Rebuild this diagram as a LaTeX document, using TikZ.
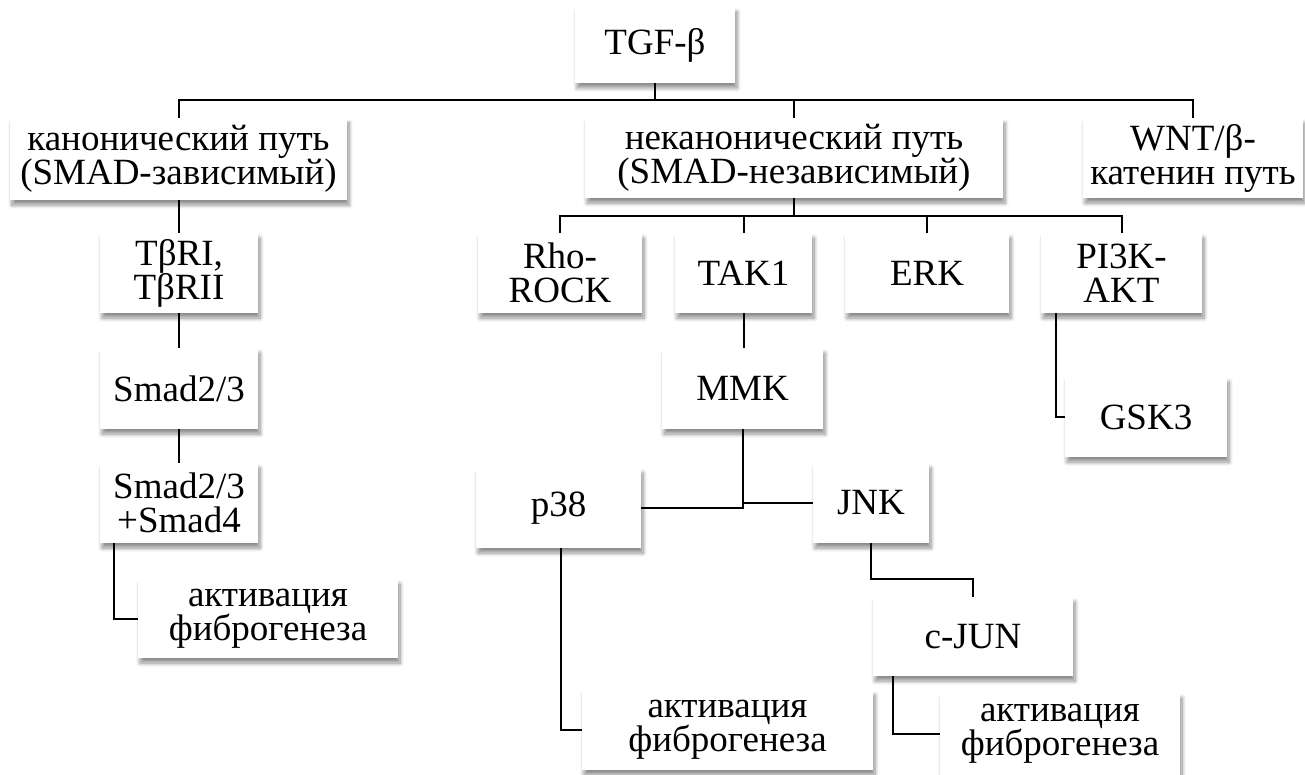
\documentclass[tikz,border=0pt]{standalone}
\usepackage{fontspec}
\setmainfont{Liberation Serif}
\usetikzlibrary{shadows.blur}
\tikzset{
  box/.style={rectangle, fill=white, inner sep=0pt, align=center,
    font=\fontsize{37}{34}\selectfont,
    blur shadow={shadow xshift=2pt, shadow yshift=-5pt, shadow blur steps=8, shadow blur radius=4pt, shadow opacity=45}},
  link/.style={line width=2pt, black}
}
\begin{document}
\begin{tikzpicture}[x=1pt,y=-1pt]
\useasboundingbox (0,0) rectangle (1305,775);
% boxes
\node[box, minimum width=160, minimum height=76] (tgf) at (655,45) {TGF-β};
\node[box, minimum width=337, minimum height=82] (can) at (178.5,159) {канонический путь\\(SMAD-зависимый)};
\node[box, minimum width=418, minimum height=80] (non) at (794,158) {неканонический путь\\(SMAD-независимый)};
\node[box, minimum width=220, minimum height=80] (wnt) at (1193,158) {WNT/β-\\катенин путь};
\node[box, minimum width=158, minimum height=80] (tbr) at (179,273) {TβRI,\\TβRII};
\node[box, minimum width=158, minimum height=81] (smad) at (179,388.5) {Smad2/3};
\node[box, minimum width=158, minimum height=80] (smadf) at (179,503) {Smad2/3\\+Smad4};
\node[box, minimum width=260, minimum height=79] (actL) at (268,618.5) {активация\\фиброгенеза};
\node[box, minimum width=164, minimum height=80] (rho) at (560,273) {Rho-\\ROCK};
\node[box, minimum width=137, minimum height=80] (tak) at (743.5,273) {TAK1};
\node[box, minimum width=164, minimum height=80] (erk) at (927,273) {ERK};
\node[box, minimum width=161, minimum height=80] (pik) at (1121.5,273) {PI3K-\\AKT};
\node[box, minimum width=161, minimum height=81] (mmk) at (742.5,388.5) {MMK};
\node[box, minimum width=162, minimum height=80] (gsk) at (1146,417) {GSK3};
\node[box, minimum width=165, minimum height=80] (p38) at (558.5,508) {p38};
\node[box, minimum width=116, minimum height=80] (jnk) at (871,503) {JNK};
\node[box, minimum width=200, minimum height=79] (cjun) at (973,636.5) {c-JUN};
\node[box, minimum width=291, minimum height=80] (actM) at (727.5,730) {активация\\фиброгенеза};
\node[box, minimum width=240, minimum height=82] (actR) at (1060,734) {активация\\фиброгенеза};
% buses
\coordinate (b1) at (655,100);
\coordinate (b2) at (794,216);
% connectors
\draw[link] (tgf.south) -- (tgf.south |- b1);
\draw[link] (can.north) -- (can.north |- b1) -- (wnt.north |- b1) -- (wnt.north);
\draw[link] (non.north) -- (non.north |- b1);
\draw[link] (can.south) -- (can.south |- tbr.north);
\draw[link] (tbr.south) -- (smad.north);
\draw[link] (smad.south) -- (smadf.north);
\draw[link] ([xshift=14pt]smadf.south west) |- (actL.west);
\draw[link] (non.south) -- (b2);
\draw[link] (rho.north) -- (rho.north |- b2) -- (pik.north |- b2) -- (pik.north);
\draw[link] (tak.north) -- (tak.north |- b2);
\draw[link] (erk.north) -- (erk.north |- b2);
\draw[link] (tak.south) -- (tak.south |- mmk.north);
\draw[link] (mmk.south) -- (mmk.south |- p38.east) -- (p38.east);
\draw[link] (mmk.south |- jnk.west) -- (jnk.west);
\draw[link] (jnk.south) -- ++(0,36) -| (cjun.north);
\draw[link] ([xshift=20pt]cjun.south west) |- (actR.west);
\draw[link] ([xshift=2.5pt]p38.south) |- (actM.west);
\draw[link] ([xshift=15pt]pik.south west) |- (gsk.west);
\end{tikzpicture}
\end{document}
